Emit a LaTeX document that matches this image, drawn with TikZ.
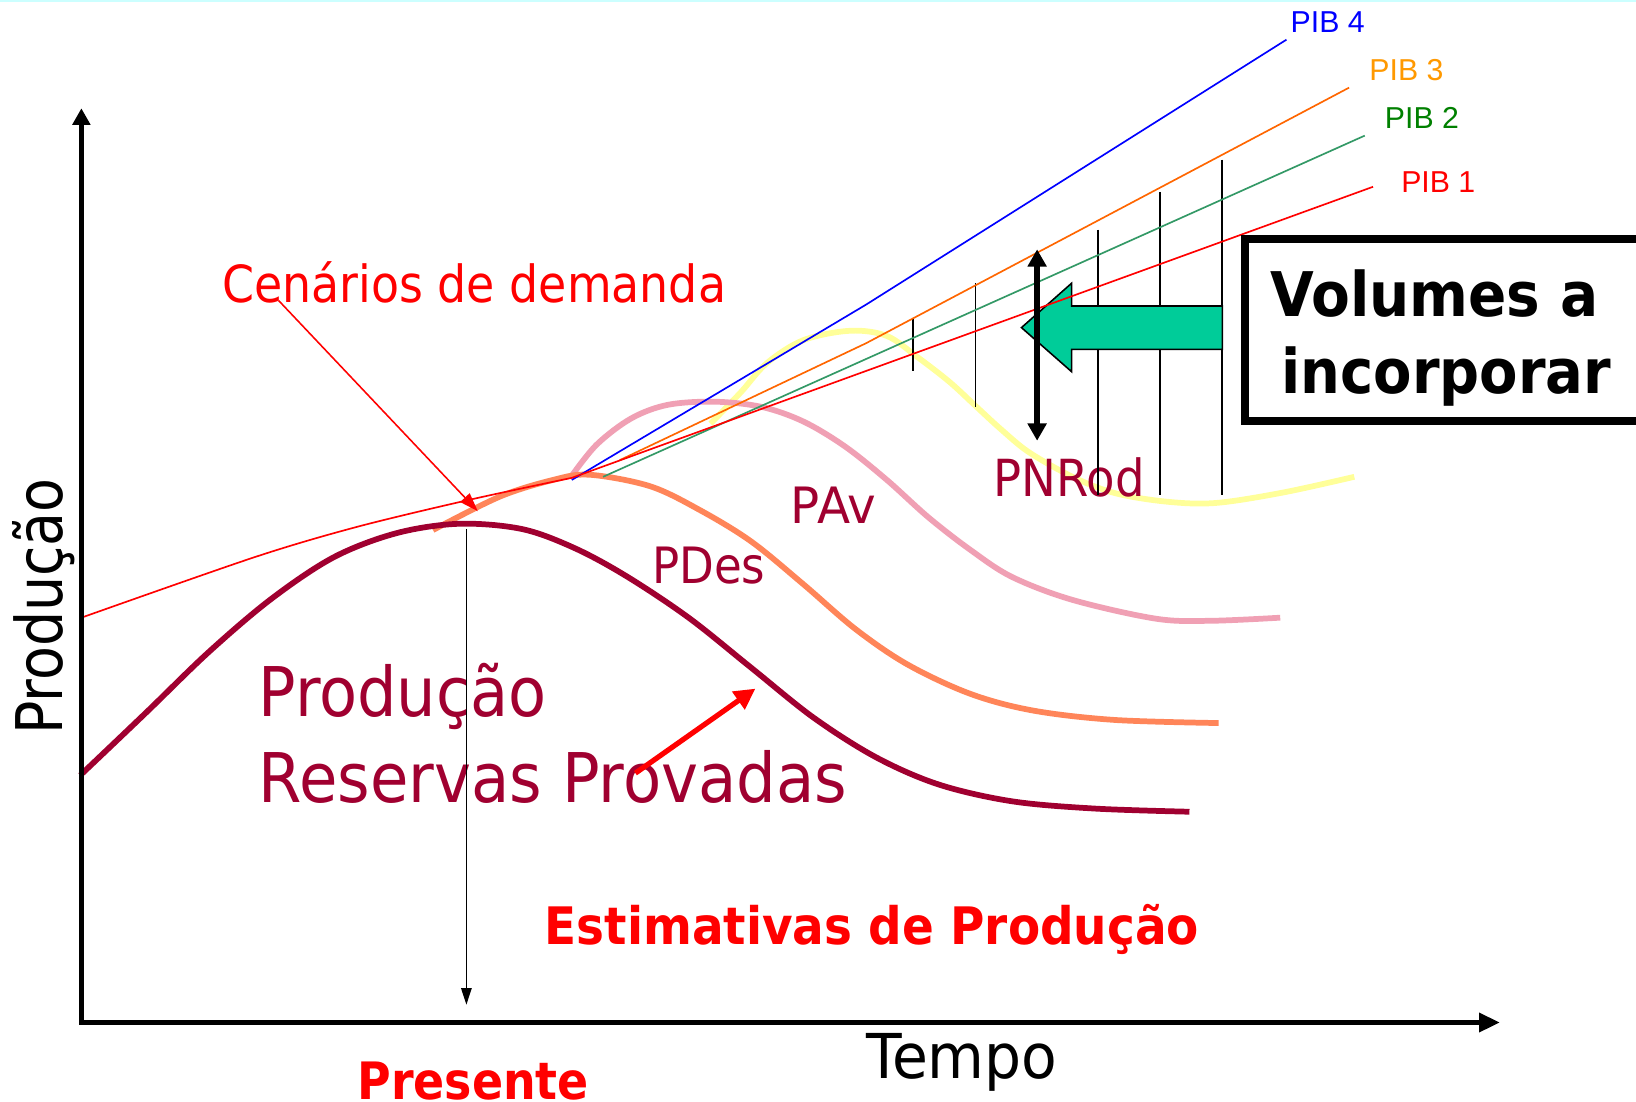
\documentclass[tikz,border=0pt]{standalone}
\usepackage{fontspec}
\usepackage{graphicx}
\usetikzlibrary{arrows.meta}
\newfontfamily\tah{DejaVu Sans}
\newfontfamily\ari{Liberation Sans}
\newcommand\fitt[3]{\resizebox{#1pt}{\height}{\fontsize{#2}{#2}\selectfont #3}}
\definecolor{dred}{HTML}{A00030}
\definecolor{coral}{HTML}{FF8559}
\definecolor{pinkc}{HTML}{F0A0B4}
\definecolor{yel}{HTML}{FFFF99}
\definecolor{tealc}{HTML}{00CC99}
\definecolor{orl}{HTML}{FF6600}
\definecolor{ort}{HTML}{FF9900}
\definecolor{grl}{HTML}{339966}
\definecolor{grt}{HTML}{008000}
\definecolor{topc}{HTML}{CCFFFF}
\tikzset{
  txt/.style={anchor=base west, inner sep=0pt, outer sep=0pt},
  curve/.style={line width=5.5pt},
  pib/.style={line width=1.6pt},
  tick/.style={line width=1.6pt, black},
  pibl/.style={txt, font=\ari\fontsize{29}{29}\selectfont},
}
\begin{document}
\begin{tikzpicture}[x=1pt,y=-1pt]
\clip (0,0) rectangle (1568,1056);
\fill[white] (0,0) rectangle (1568,1056);
\fill[topc] (0,0) rectangle (1568,2);

% curves
\draw[curve, yel] plot[smooth, tension=0.55] coordinates {(681,406) (710,376) (735,348) (770,326) (815,317) (850,322) (879,342) (910,366) (936,390) (960,412) (987,434) (1030,458) (1070,473) (1120,481) (1166,482) (1230,472) (1298,457)};
\draw[curve, pinkc] plot[smooth, tension=0.55] coordinates {(548,456) (572,426) (605,401) (640,388) (685,385) (730,390) (770,404) (810,428) (850,460) (890,496) (930,527) (970,553) (1028,575) (1108,593) (1160,595) (1227,592)};
\draw[curve, coral] plot[smooth, tension=0.55] coordinates {(415,508) (479,476) (530,460) (565,455) (623,466) (671,489) (720,519) (770,560) (820,603) (870,637) (930,665) (990,681) (1068,690) (1168,693)};
\draw[curve, dred] plot[smooth, tension=0.55] coordinates {(77,743) (140,683) (200,625) (260,574) (320,534) (380,511) (440,502) (500,507) (550,525) (600,552) (660,592) (720,640) (780,688) (840,726) (900,752) (970,768) (1050,775) (1140,778)};

% labels
\node[txt, text=red] (cen) at (213,290) {\fitt{483}{49}{\tah Cenários de demanda}};
\node[txt, text=dred] (pnrod) at (952,476) {\fitt{145}{49}{\tah PNRod}};
\node[txt, text=dred] (pav) at (758,501.6) {\fitt{81.5}{48}{\tah PAv}};
\node[txt, text=dred] (pdes) at (625,559) {\fitt{108.5}{48}{\tah PDes}};
\node[txt, text=dred] (prod) at (248,686.9) {\fitt{276}{65.7}{\tah Produção}};
\node[txt, text=dred] (resv) at (248,769.3) {\fitt{564}{65.7}{\tah Reservas Provadas}};
\node[txt, text=black] (tempo) at (830.2,1033.5) {\fitt{183.3}{59.3}{\tah Tempo}};
\node[txt, text=black, rotate=90] (ylab) at (59.6,704.4) {\fitt{246}{61.7}{\tah Produção}};
\node[txt, text=red] (est) at (522.1,905.7) {\fitt{627}{49.5}{\tah\bfseries Estimativas de Produção}};
\node[txt, text=red] (pres) at (342.5,1054) {\fitt{222}{49.4}{\tah\bfseries Presente}};

\node[pibl, text=blue] (p4) at (1237,31) {PIB 4};
\node[pibl, text=ort] (p3) at (1312.5,77.3) {PIB 3};
\node[pibl, text=grt] (p2) at (1327.4,123) {PIB 2};
\node[pibl, text=red] (p1) at (1343,184.3) {PIB 1};

% vertical ticks
\draw[tick] (875.3,305) -- (875.3,356);
\draw[tick] (934.8,271.5) -- (934.8,390);
\draw[tick] (1052.6,220) -- (1052.6,474);
\draw[tick] (1112,184) -- (1112,474);
\draw[tick] (1171,153) -- (1171,474);

% block arrow
\draw[fill=tealc, line width=1.5pt, line join=miter] (979,314) -- (1027,271.5) -- (1027,293.3) -- (1171.5,293.3) -- (1171.5,334.8) -- (1027,334.8) -- (1027,356.2) -- cycle;

% PIB lines
\draw[pib, blue] (548,460) -- (830,292) -- (1233,38);
\draw[pib, orl] (594,441) -- (830,329) -- (1293,84);
\draw[pib, grl] (578,457) -- (1308,130);
\draw[pib, red] plot[smooth, tension=0.5] coordinates {(78,592) (244,534) (342,505) (450,479) (548,458)} -- (1316,179);

% double arrow
\coordinate (dtop) at (994,239);
\coordinate (dbot) at (994,422.4);
\draw[line width=5.4pt, {Triangle[length=16.6pt,width=17.6pt]}-{Triangle[length=16.6pt,width=17.6pt]}] (dtop) -- (dbot);

% axes
\coordinate (ytip) at (78,103.8);
\coordinate (orig) at (78,980);
\coordinate (xtip) at (1437.6,980);
\draw[line width=5pt, line join=miter, {Triangle[length=16pt,width=16.7pt]}-{Triangle[length=20pt,width=17.6pt]}] (ytip) -- (orig) -- (xtip);

% present arrow
\coordinate (pk) at (447,507);
\coordinate (pb) at (447,963);
\draw[line width=1.5pt, -{Triangle[length=16pt,width=10pt]}] (pk) -- (pb);

% cenarios arrow
\coordinate (cs) at (267,288);
\coordinate (ce) at (458,490);
\draw[red, line width=1.5pt, -{Triangle[length=18pt,width=12pt]}] (cs) -- (ce);

% thick red arrow
\coordinate (rs) at (609,741);
\coordinate (re) at (724,660);
\draw[red, line width=5pt, -{Triangle[length=20pt,width=20pt]}] (rs) -- (re);

% box
\draw[line width=8pt] (1193,229) rectangle (1640,403.3);
\node[txt] (vol) at (1217.8,303.5) {\fitt{314}{59}{\tah\bfseries Volumes a}};
\node[txt] (inc) at (1228.3,377) {\fitt{316}{59}{\tah\bfseries incorporar}};
\end{tikzpicture}
\end{document}
